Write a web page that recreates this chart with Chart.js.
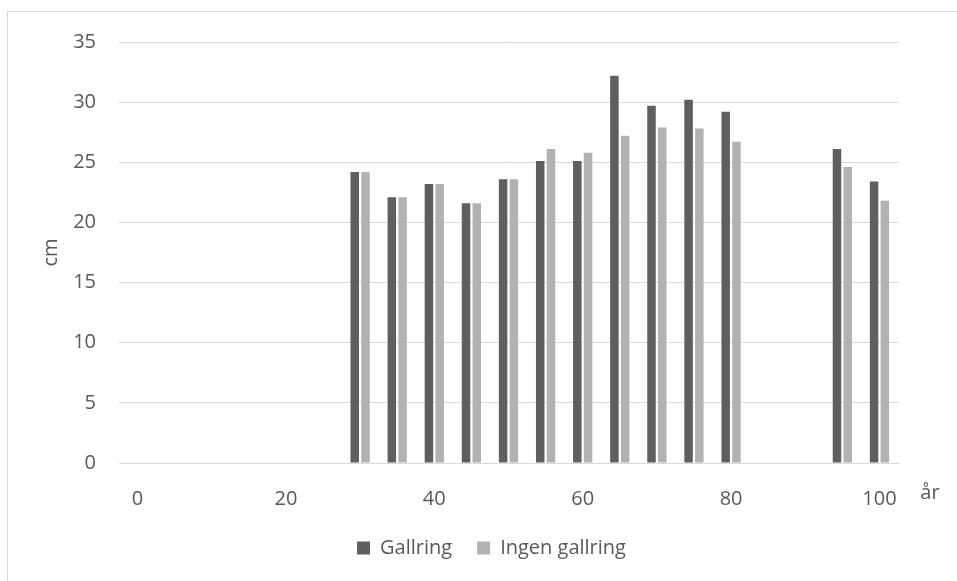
<!DOCTYPE html>
<html>
<head>
<meta charset="utf-8">
<script src="https://cdn.jsdelivr.net/npm/chart.js@4/dist/chart.umd.min.js"></script>
<style>
  html, body { margin: 0; padding: 0; background: #ffffff; overflow: hidden; }
  #wrap { position: relative; width: 957px; height: 581px; }
</style>
</head>
<body>
<div id="wrap"><canvas id="chart" width="957" height="581"></canvas></div>
<script>
// Stand age (years), one category every 5 years
const years = [0, 5, 10, 15, 20, 25, 30, 35, 40, 45, 50, 55, 60, 65, 70, 75, 80, 85, 90, 95, 100];
// Axis labels that are printed under the categories
const yearTicks = [0, 20, 40, 60, 80, 100];
// Mean diameter (cm)
const gallring      = [null, null, null, null, null, null, 24.2, 22.1, 23.2, 21.6, 23.6, 25.1, 25.1, 32.2, 29.7, 30.2, 29.2, null, null, 26.1, 23.4];
const ingenGallring = [null, null, null, null, null, null, 24.2, 22.1, 23.2, 21.6, 23.6, 26.1, 25.8, 27.2, 27.9, 27.8, 26.7, null, null, 24.6, 21.8];
const yTicks = { min: 0, max: 35, step: 5 };

const FONT = "'Open Sans', 'Noto Sans', sans-serif";
const TEXT = '#595959';
const GRID = '#d9d9d9';

// Outer frame of the chart and the unit label at the end of the x axis
const frame = {
  id: 'frame',
  beforeDraw(chart) {
    const ctx = chart.ctx;
    ctx.save();
    ctx.strokeStyle = GRID;
    ctx.lineWidth = 1;
    ctx.strokeRect(7.5, 11.5, 1200, 1200);
    ctx.restore();
  },
  afterDraw(chart) {
    const ctx = chart.ctx;
    const x = chart.scales.x;
    ctx.save();
    ctx.font = '20px ' + FONT;
    ctx.fillStyle = TEXT;
    ctx.textAlign = 'center';
    ctx.textBaseline = 'middle';
    ctx.fillText('år', x.right + 32, 493);
    ctx.restore();
  }
};

new Chart(document.getElementById('chart'), {
  type: 'bar',
  data: {
    labels: years.map(String),
    datasets: [
      { label: 'Gallring', data: gallring, backgroundColor: '#5f5f5f' },
      { label: 'Ingen gallring', data: ingenGallring, backgroundColor: '#b2b2b2' }
    ]
  },
  options: {
    responsive: false,
    animation: false,
    categoryPercentage: 0.58,
    barPercentage: 0.79,
    layout: { padding: { left: 70, right: 44, top: 42, bottom: 13 } },
    plugins: {
      tooltip: { enabled: false },
      legend: {
        position: 'bottom',
        labels: {
          font: { family: FONT, size: 20 },
          color: TEXT,
          boxWidth: 13,
          boxHeight: 13,
          padding: 25
        }
      }
    },
    scales: {
      x: {
        grid: { display: false },
        border: { display: true, color: GRID },
        ticks: {
          autoSkip: false,
          maxRotation: 0,
          padding: 16,
          color: TEXT,
          font: { family: FONT, size: 20 },
          callback(value, index) {
            return yearTicks.includes(years[index]) ? String(years[index]) : '';
          }
        },
        afterFit(scale) { scale.height = 50; }
      },
      y: {
        min: yTicks.min,
        max: yTicks.max,
        grid: { color: GRID, lineWidth: 1, drawTicks: false },
        border: { display: false },
        ticks: {
          stepSize: yTicks.step,
          padding: 23,
          color: TEXT,
          font: { family: FONT, size: 20 }
        },
        title: {
          display: true,
          text: 'cm',
          color: TEXT,
          font: { family: FONT, size: 20 },
          padding: { top: -31, bottom: 0 }
        },
        afterFit(scale) { scale.width = 49; }
      },
      // empty spacer on the right, keeps room for the "år" label
      yRight: {
        position: 'right',
        display: true,
        grid: { display: false, drawTicks: false },
        border: { display: false },
        ticks: { display: false },
        afterFit(scale) { scale.width = 15; }
      }
    }
  },
  plugins: [frame]
});
</script>
</body>
</html>
